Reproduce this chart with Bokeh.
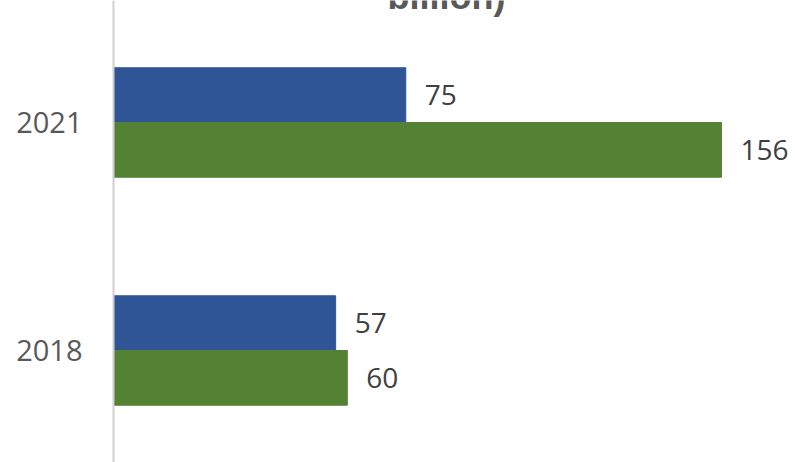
from bokeh.plotting import figure
from bokeh.models import Range1d, FixedTicker, ColumnDataSource
from bokeh.core.properties import value
from bokeh.embed import file_html
from bokeh.resources import INLINE

# ---- data ----
years = ["2018", "2021"]          # bottom to top
series_a = [57, 75]               # blue
series_b = [60, 156]              # green
title_tail = "billion)"

blue = "#2F5597"
green = "#548235"

W, H = 795, 462
LEFT = 113
px_per_cat = 228.0
top_val = 1.5 + 122 / px_per_cat
bottom_val = top_val - H / px_per_cat
px_per_unit = 3.897
x_end = (W - LEFT) / px_per_unit

p = figure(width=W, height=H, output_backend="svg", toolbar_location=None,
           x_range=Range1d(0, x_end), y_range=Range1d(bottom_val, top_val),
           x_axis_location=None, min_border_left=LEFT, min_border_right=0,
           min_border_top=0, min_border_bottom=0, outline_line_color=None)
p.grid.visible = False

pos = [i + 0.5 for i in range(len(years))]
bh = 0.24
src = ColumnDataSource(dict(
    ya=[y + bh / 2 for y in pos], yb=[y - bh / 2 for y in pos],
    a=series_a, b=series_b,
    la=[str(v) for v in series_a], lb=[str(v) for v in series_b]))

p.hbar(y="ya", right="a", left=0, height=bh, color=blue, source=src)
p.hbar(y="yb", right="b", left=0, height=bh, color=green, source=src)

lbl = dict(text_font=value("Open Sans"), text_font_size="28px", text_color="#404040",
           text_baseline="middle", text_align="left", x_offset=19)
p.text(x="a", y="ya", text="la", source=src, **lbl)
p.text(x="b", y="yb", text="lb", source=src, **lbl)

# partially visible title (cut by the top edge, as in the reference)
p.text(x=[(446 - LEFT) / px_per_unit], y=[top_val], text=[title_tail], y_offset=-4,
       text_font=value("Liberation Sans"), text_font_style="bold", text_font_size="36px",
       text_color="#595959", text_align="center", text_baseline="alphabetic")

ax = p.yaxis[0]
ax.ticker = FixedTicker(ticks=pos)
ax.major_label_overrides = {pos[i]: years[i] for i in range(len(years))}
ax.major_tick_line_color = None
ax.minor_tick_line_color = None
ax.major_label_standoff = 25
ax.major_label_text_font = "Open Sans"
ax.major_label_text_font_size = "29px"
ax.major_label_text_color = "#595959"
ax.axis_line_color = "#D0D0D0"
ax.axis_line_width = 2

open("out.html", "w").write(file_html(p, INLINE))
